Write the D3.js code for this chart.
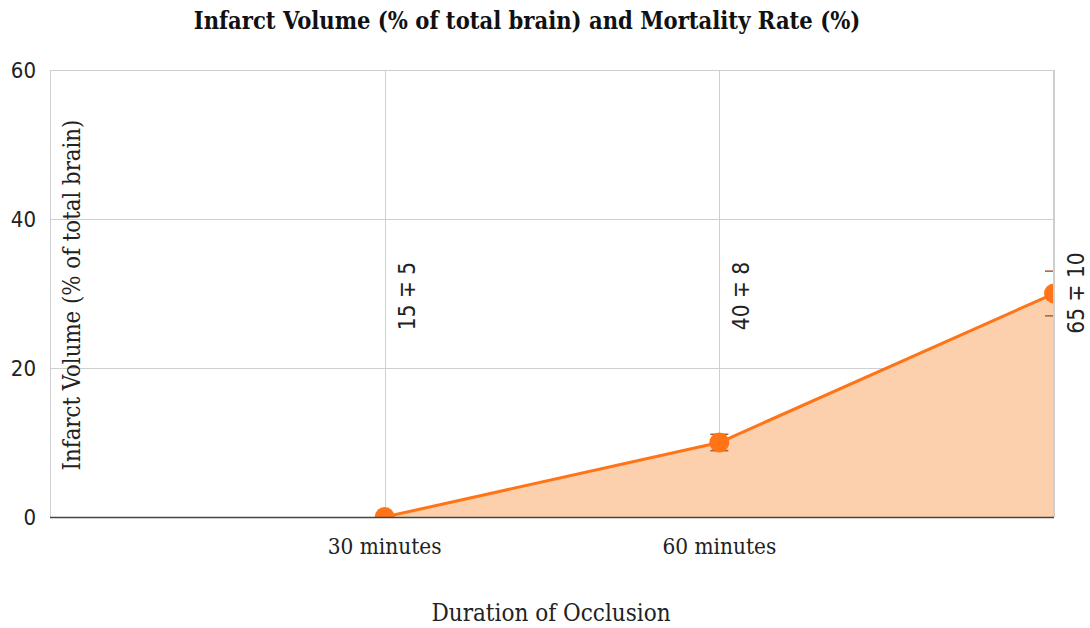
<!DOCTYPE html>
<html>
<head>
<meta charset="utf-8">
<script src="https://cdn.jsdelivr.net/npm/d3@7"></script>
<style>
  html, body { margin: 0; padding: 0; background: #fff; }
  svg { display: block; }
  .serif { font-family: 'DejaVu Serif Condensed', 'DejaVu Serif', 'Liberation Serif', serif; font-stretch: condensed; }
  .sans { font-family: 'DejaVu Sans Condensed', 'Liberation Sans Narrow', 'DejaVu Sans', sans-serif; font-stretch: condensed; }
</style>
</head>
<body>
<svg id="chart" width="1090" height="628"></svg>
<script>
// Occlusion durations (minutes) and their category names
const durations = [30, 60, 90];
const categories = ["30 minutes", "60 minutes", "90 minutes"];
// Infarct volume (% of total brain) with error
const infarctVolume = [0, 10, 30];
const infarctError = [0, 1.1, 3];
// Mortality rate (%) mean and spread, shown as text labels
const mortalityMean = [15, 40, 65];
const mortalitySpread = [5, 8, 10];
// Axis ticks
const yTicks = [0, 20, 40, 60];
const xTicks = [30, 60];

const svg = d3.select("#chart");
const margin = { top: 70, right: 36, bottom: 111, left: 50 };
const W = 1090, H = 628;
const iw = W - margin.left - margin.right;
const ih = H - margin.top - margin.bottom;

const x = d3.scaleLinear().domain([0, 90]).range([margin.left, margin.left + iw]);
const y = d3.scaleLinear().domain([0, 60]).range([margin.top + ih, margin.top]);

const orange = "#ff7417";
const fill = "#fdd0ad";
const grid = "#cfcfcf";

// Title
svg.append("text")
  .attr("class", "serif")
  .attr("x", 527).attr("y", 29)
  .attr("text-anchor", "middle")
  .style("font-weight", "bold")
  .style("font-size", "23.5px")
  .attr("fill", "#111")
  .text("Infarct Volume (% of total brain) and Mortality Rate (%)");

// Horizontal grid
svg.append("g").selectAll("line").data(yTicks.filter(d => d > 0)).join("line")
  .attr("x1", x(0)).attr("x2", x(90))
  .attr("y1", d => y(d) + 0.5).attr("y2", d => y(d) + 0.5)
  .attr("stroke", grid).attr("stroke-width", 1);

// Vertical grid lines
svg.append("g").selectAll("line").data([0, ...xTicks]).join("line")
  .attr("x1", d => Math.round(x(d)) + 0.5).attr("x2", d => Math.round(x(d)) + 0.5)
  .attr("y1", y(60)).attr("y2", y(0))
  .attr("stroke", grid).attr("stroke-width", 1);

// Clip so the series stays within the plot frame
svg.append("clipPath").attr("id", "plotClip")
  .append("rect")
  .attr("x", x(0)).attr("y", y(60))
  .attr("width", x(90) - x(0)).attr("height", y(0) - y(60));

const plot = svg.append("g").attr("clip-path", "url(#plotClip)");

const pts = durations.map((d, i) => ({ d, v: infarctVolume[i], e: infarctError[i] }));

// Area under the line
plot.append("path")
  .datum(pts)
  .attr("d", d3.area().x(p => x(p.d)).y0(y(0)).y1(p => y(p.v)))
  .attr("fill", fill);

// Error bars
const eb = plot.append("g").selectAll("g").data(pts.filter(p => p.e > 0)).join("g");
eb.append("line")
  .attr("x1", p => x(p.d)).attr("x2", p => x(p.d))
  .attr("y1", p => y(p.v - p.e)).attr("y2", p => y(p.v + p.e))
  .attr("stroke", "#a0613a").attr("stroke-width", 1.5);
eb.selectAll("line.cap").data(p => [[p.d, p.v - p.e], [p.d, p.v + p.e]]).join("line")
  .attr("class", "cap")
  .attr("x1", c => x(c[0]) - 9).attr("x2", c => x(c[0]) + 9)
  .attr("y1", c => y(c[1])).attr("y2", c => y(c[1]))
  .attr("stroke", "#a0613a").attr("stroke-width", 1.5);

// Line
plot.append("path")
  .datum(pts)
  .attr("d", d3.line().x(p => x(p.d)).y(p => y(p.v)))
  .attr("fill", "none")
  .attr("stroke", orange)
  .attr("stroke-width", 3);

// Markers
plot.append("g").selectAll("circle").data(pts).join("circle")
  .attr("cx", p => x(p.d)).attr("cy", p => y(p.v))
  .attr("r", 10)
  .attr("fill", orange);

// Right frame edge, drawn over the series
svg.append("line")
  .attr("x1", x(90)).attr("x2", x(90))
  .attr("y1", y(60)).attr("y2", y(0))
  .attr("stroke", grid).attr("stroke-width", 2);

// Bottom axis line
svg.append("line")
  .attr("x1", x(0)).attr("x2", x(90))
  .attr("y1", y(0) + 0.5).attr("y2", y(0) + 0.5)
  .attr("stroke", "#444").attr("stroke-width", 1.3);

// Y tick labels
svg.append("g").selectAll("text").data(yTicks).join("text")
  .attr("class", "sans")
  .attr("x", 36).attr("y", d => y(d) + 8)
  .attr("text-anchor", "end")
  .style("font-size", "22px")
  .attr("fill", "#222")
  .text(d => d);

// X tick labels
svg.append("g").selectAll("text").data(xTicks).join("text")
  .attr("class", "serif")
  .attr("x", d => x(d)).attr("y", 554)
  .attr("text-anchor", "middle")
  .style("font-size", "22.4px")
  .attr("fill", "#222")
  .text(d => categories[durations.indexOf(d)]);

// Axis titles
svg.append("text")
  .attr("class", "serif")
  .attr("x", 551).attr("y", 621)
  .attr("text-anchor", "middle")
  .style("font-size", "24px")
  .attr("fill", "#222")
  .text("Duration of Occlusion");

svg.append("text")
  .attr("class", "serif")
  .attr("transform", "translate(80,295) rotate(-90)")
  .attr("text-anchor", "middle")
  .style("font-size", "23.7px")
  .attr("fill", "#222")
  .text("Infarct Volume (% of total brain)");

// Mortality labels, rotated
const labelY = [296, 296, 293];
svg.append("g").selectAll("text").data(durations).join("text")
  .attr("class", "sans")
  .attr("transform", (d, i) => `translate(${x(d) + 30},${labelY[i]}) rotate(-90)`)
  .attr("text-anchor", "middle")
  .style("font-size", "22.5px")
  .attr("fill", "#222")
  .text((d, i) => `${mortalityMean[i]} \u2213 ${mortalitySpread[i]}`);
</script>
</body>
</html>
